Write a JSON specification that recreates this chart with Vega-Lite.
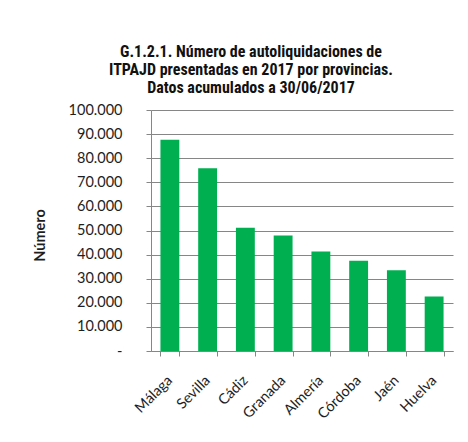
{
  "$schema": "https://vega.github.io/schema/vega-lite/v6.json",
  "width": 302,
  "height": 241,
  "autosize": {"type": "none"},
  "padding": {"left": 151, "top": 110, "right": 15, "bottom": 91},
  "background": "#ffffff",
  "title": {
    "text": ["G.1.2.1. Número de autoliquidaciones de", "ITPAJD presentadas en 2017 por provincias.", "Datos acumulados a 30/06/2017"],
    "font": "Roboto Condensed, DejaVu Sans Condensed, Liberation Sans Narrow, Lato",
    "fontSize": 16,
    "fontWeight": "bold",
    "color": "#111111",
    "lineHeight": 18,
    "anchor": "middle",
    "dx": -51,
    "offset": 6
  },
  "data": {
    "values": [
      {"provincia": "Málaga", "valor": 87700},
      {"provincia": "Sevilla", "valor": 75800},
      {"provincia": "Cádiz", "valor": 51100},
      {"provincia": "Granada", "valor": 47900},
      {"provincia": "Almería", "valor": 41300},
      {"provincia": "Córdoba", "valor": 37500},
      {"provincia": "Jaén", "valor": 33500},
      {"provincia": "Huelva", "valor": 22600}
    ]
  },
  "mark": {"type": "bar", "color": "#00B050"},
  "encoding": {
    "x": {
      "field": "provincia",
      "type": "nominal",
      "sort": null,
      "scale": {"paddingInner": 0.5, "paddingOuter": 0.25},
      "axis": {
        "title": null,
        "labelAngle": -45,
        "labelAlign": "right",
        "labelBaseline": "middle",
        "labelPadding": 22,
        "labelFont": "Lato",
        "labelFontSize": 14.5,
        "labelColor": "#1e1e1e",
        "tickBand": "extent",
        "tickSize": 5,
        "tickColor": "#868686",
        "domainColor": "#868686",
        "grid": false
      }
    },
    "y": {
      "field": "valor",
      "type": "quantitative",
      "scale": {"domain": [0, 100000], "nice": false},
      "axis": {
        "title": "Número",
        "titleFont": "Lato",
        "titleFontSize": 14.5,
        "titleFontWeight": "bold",
        "titleColor": "#1e1e1e",
        "titleX": -111,
        "titleY": 125,
        "titleBaseline": "middle",
        "titleAngle": -90,
        "values": [0, 10000, 20000, 30000, 40000, 50000, 60000, 70000, 80000, 90000, 100000],
        "labelExpr": "datum.value == 0 ? '-' : replace(format(datum.value, ','), /,/g, '.')",
        "labelFont": "Lato",
        "labelFontSize": 14.5,
        "labelColor": "#1e1e1e",
        "labelPadding": 24,
        "tickSize": 5,
        "tickColor": "#868686",
        "domainColor": "#868686",
        "grid": true,
        "gridColor": "#868686"
      }
    }
  },
  "config": {"view": {"stroke": null}}
}
